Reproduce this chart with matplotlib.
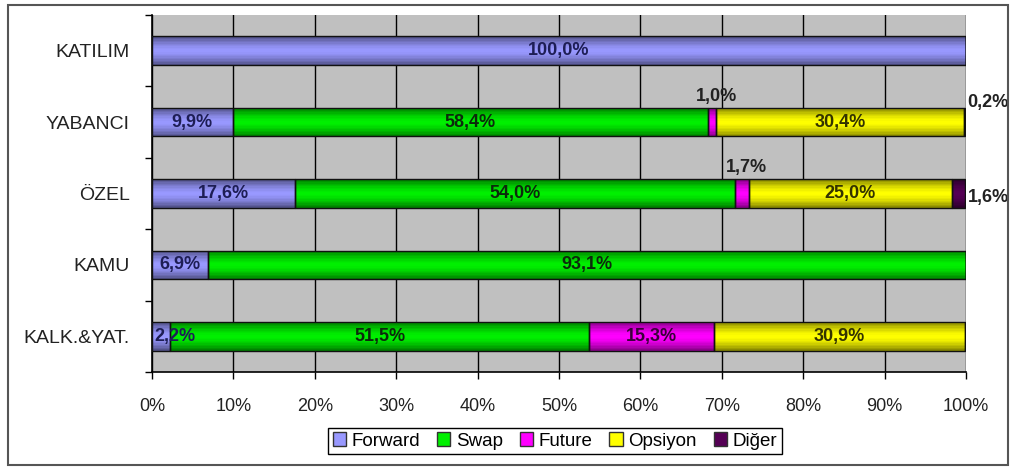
import numpy as np
import matplotlib.pyplot as plt
from matplotlib.patches import Patch, Rectangle

plt.rcParams['font.family'] = ['Liberation Sans', 'DejaVu Sans']

kategoriler = ['KATILIM', 'YABANCI', 'ÖZEL', 'KAMU', 'KALK.&YAT.']
seriler = ['Forward', 'Swap', 'Future', 'Opsiyon', 'Diğer']
forward = [100.0, 9.9, 17.6, 6.9, 2.2]
swap = [0.0, 58.4, 54.0, 93.1, 51.5]
future = [0.0, 1.0, 1.7, 0.0, 15.3]
opsiyon = [0.0, 30.4, 25.0, 0.0, 30.9]
diger = [0.0, 0.2, 1.6, 0.0, 0.0]

renkler = ['#9999ff', '#00f000', '#ff00ff', '#ffff00', '#550055']
yazi_renk = ['#1e1e55', '#0c2a0c', '#3a003a', '#333300', '#222222']

veri = np.array([forward, swap, future, opsiyon, diger])

fig = plt.figure(figsize=(10.12, 4.68), dpi=100)
ax = fig.add_axes([152 / 1012, 1 - 372 / 468, 814 / 1012, 357 / 468])
ax.set_facecolor('#c0c0c0')

y = np.arange(len(kategoriler))
yukseklik = 0.4

# çubuklara gölge için ince şeritler: kenarlar koyu, orta açık
n_serit = 20
serit_h = yukseklik / n_serit
serit_orta = (np.arange(n_serit) + 0.5) / n_serit * 2 - 1
serit_alfa = 0.5 * np.abs(serit_orta) ** 1.6

sol = np.zeros(len(kategoriler))
for i, ad in enumerate(seriler):
    deger = veri[i]
    ax.barh(y, deger, left=sol, height=yukseklik, color=renkler[i],
            edgecolor='none', label=ad, zorder=3)
    for k in range(n_serit):
        ax.barh(y - yukseklik / 2 + (k + 0.5) * serit_h, deger, left=sol,
                height=serit_h, color='black', alpha=serit_alfa[k],
                edgecolor='none', linewidth=0, zorder=3.2)
    ax.barh(y, deger, left=sol, height=yukseklik, color='none',
            edgecolor='#111111', linewidth=1.0, zorder=3.5)
    for j, d in enumerate(deger):
        if d <= 0:
            continue
        metin = f'{d:.1f}%'.replace('.', ',')
        orta = sol[j] + d / 2
        if d >= 2.5:
            ax.text(orta, y[j], metin, ha='center', va='center', fontsize=13,
                    fontweight='bold', color=yazi_renk[i], zorder=4)
        elif d >= 2:
            # dar ilk dilim: etiket çubuğun başından başlıyor
            ax.text(sol[j] + 0.3, y[j], metin, ha='left', va='center', fontsize=13,
                    fontweight='bold', color=yazi_renk[i], zorder=4)
        elif sol[j] + d > 99:
            # en sondaki ince dilim: etiket çubuğun sağında
            kay = -0.28 if d < 1 else 0.05
            ax.text(100.2, y[j] + kay, metin, ha='left', va='center', fontsize=13,
                    fontweight='bold', color='#222222', zorder=4, clip_on=False)
        else:
            ax.text(orta + 0.6, y[j] - 0.36, metin, ha='center', va='center', fontsize=13,
                    fontweight='bold', color='#222222', zorder=4)
    sol = sol + deger

ax.set_xlim(0, 100)
ax.set_ylim(len(kategoriler) - 0.5, -0.5)
ax.set_xticks(np.arange(0, 101, 10))
ax.set_xticklabels([f'{v}%' for v in range(0, 101, 10)], fontsize=13, color='#222222')
ax.set_yticks(y)
ax.set_yticklabels(kategoriler, fontsize=14, color='#222222')
ax.set_yticks(np.arange(-0.5, len(kategoriler), 1), minor=True)
ax.tick_params(axis='y', which='major', length=0, pad=16)
ax.tick_params(axis='y', which='minor', length=5, width=1, color='black')
ax.tick_params(axis='x', length=5, width=1, pad=14)
ax.grid(axis='x', color='black', linewidth=1, zorder=1)
ax.set_axisbelow(True)
for s in ['top', 'right']:
    ax.spines[s].set_visible(False)
ax.spines['left'].set_linewidth(1.2)
ax.spines['bottom'].set_linewidth(1.2)

tutamac = [Patch(facecolor=renkler[i], edgecolor='#333333', label=seriler[i])
           for i in range(len(seriler))]
fig.legend(handles=tutamac, loc='center', bbox_to_anchor=(555 / 1012, 1 - 441 / 468),
           ncol=5, fontsize=13.5, frameon=True, fancybox=False, edgecolor='black',
           handlelength=0.7, handleheight=0.7, handletextpad=0.3, columnspacing=0.9,
           borderpad=0.25, framealpha=1)

fig.patches.append(Rectangle((8 / 1012, 3 / 468), 1000 / 1012, 460 / 468,
                             transform=fig.transFigure, fill=False,
                             edgecolor='#555555', linewidth=1.5))

fig.savefig('out.png', dpi=100)
